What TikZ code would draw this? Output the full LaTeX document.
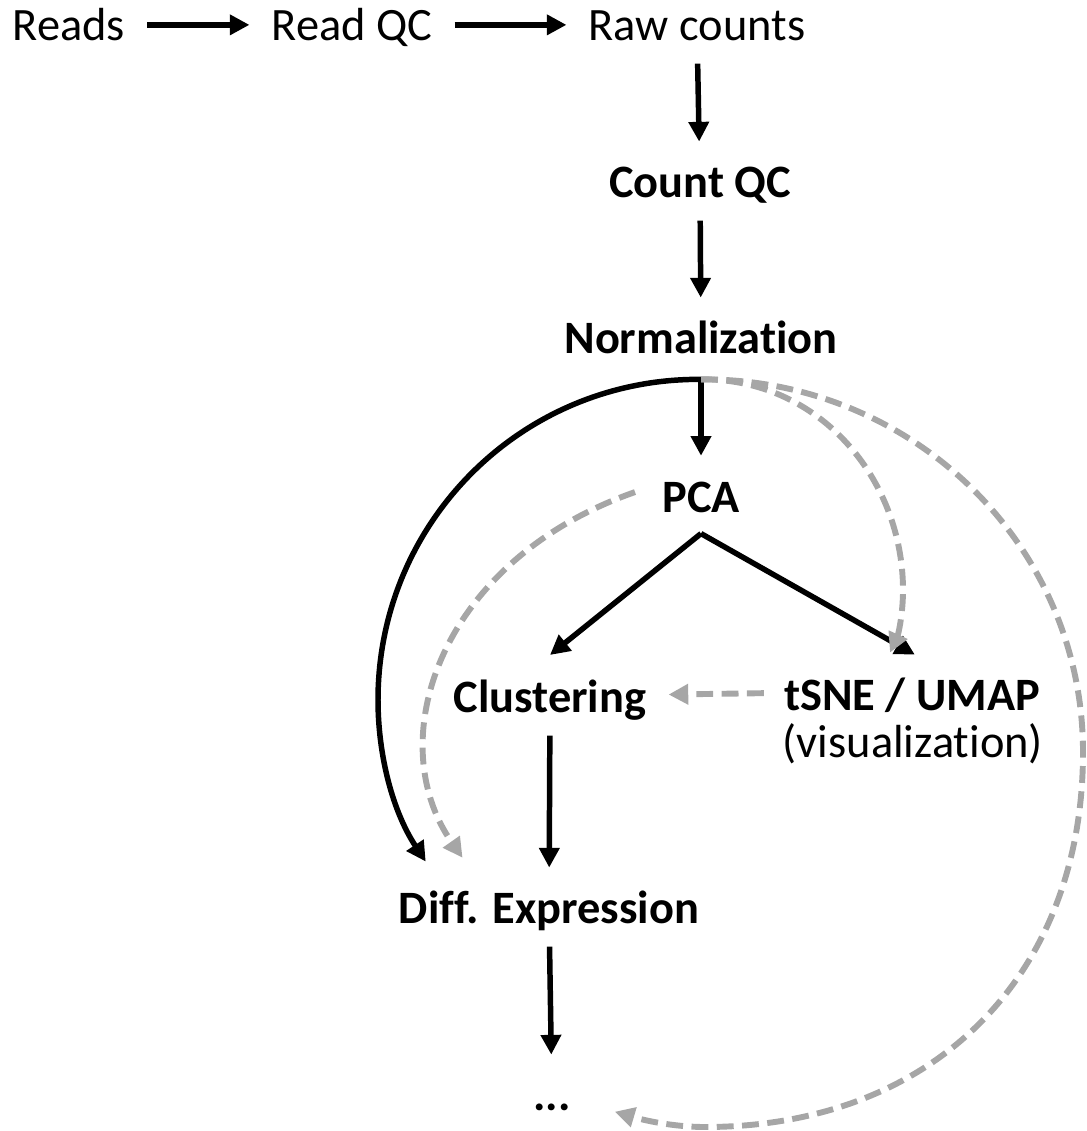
\documentclass[tikz,border=0pt]{standalone}
\usepackage{fontspec}
\setmainfont{Carlito}[Ligatures=NoCommon]
\usetikzlibrary{arrows.meta}
\tikzset{
	lbl/.style={inner sep=0pt, text height=21.3pt, text depth=6.6pt, anchor=base, font=\fontsize{33}{40}\selectfont},
	blbl/.style={lbl, font=\fontsize{33}{40}\selectfont\bfseries},
	flow/.style={line width=3.9pt, -{Triangle[length=14pt, width=14pt]}},
	gflow/.style={line width=4.2pt, color=black!35, dash pattern=on 12pt off 6pt, -{Triangle[length=14pt, width=14pt]}},
	down/.style={flow, shorten <=0.35cm, shorten >=0.63cm},
	side/.style={flow, shorten <=0.55cm, shorten >=0.55cm}
}

\begin{document}
\begin{tikzpicture}[x=0.025cm, y=-0.025cm]
			%%%%% START %%%%%
			\useasboundingbox (0,0) rectangle (1086,1131);
			
			\node[lbl] (reads) at (69,40) {Reads};
			\node[lbl] (readqc) at (352,40) {Read QC};
			\node[lbl] (rawc) at (697,40) {Raw counts};
			\node[blbl] (countqc) at (700,197) {Count QC};
			\node[blbl] (norm) at (701,353) {Normalization};
			\node[blbl] (pca) at (701,512) {PCA};
			\node[blbl] (clus) at (550,712) {Clustering};
			\node[blbl] (tsne) at (912,710) {tSNE / UMAP};
			\node[lbl] (vis) at (913,757) {(visualization)};
			\node[blbl] (diff) at (549,923) {Diff. Expression};
			\node[blbl] (dots) at (552,1110) {...};
			
			\coordinate (split) at ([yshift=-0.42cm]norm.south);
			\coordinate (fork) at ([yshift=-0.3cm]pca.south);
			
			\draw[side] ([yshift=0.12cm]reads.east) -- ([yshift=0.12cm]readqc.west);
			\draw[side] ([yshift=0.12cm]readqc.east) -- ([yshift=0.12cm]rawc.west);
			\draw[down] (rawc) -- (countqc);
			\draw[down] (countqc) -- (norm);
			\draw[flow, shorten >=0.65cm] (split) -- (pca.north);
			
			\draw[flow] (fork) -- ([yshift=0.67cm]clus.north);
			\draw[flow] (fork) -- ([xshift=0.07cm,yshift=0.63cm]tsne.north);
			\draw[down] (clus) -- (diff);
			\draw[down] (diff) -- (dots);
			
			% solid and dashed loops
			\draw[flow] (split) .. controls (522,378) and (378,522) .. (378,700) .. controls (378,756) and (393,812) .. ([xshift=0.68cm,yshift=0.78cm]diff.north west);
			\draw[gflow, shorten <=0.5cm, shorten >=0.55cm] ([yshift=0.17cm]tsne.west) -- ([yshift=0.17cm]clus.east);
			\draw[gflow] ([xshift=-0.675cm,yshift=0.24cm]pca.west) .. controls (440,560) and (380,740) .. ([xshift=1.6cm,yshift=0.875cm]diff.north west);
			\draw[gflow] (split) .. controls (820,378) and (903,480) .. (903,590) .. controls (903,615) and (898,635) .. ([xshift=-0.55cm,yshift=0.68cm]tsne.north);
			\draw[gflow] (split) .. controls (912,378) and (1083,545) .. (1083,752) .. controls (1083,977) and (932,1127) .. (705,1127) .. controls (673,1127) and (643,1120) .. ([xshift=1.1cm,yshift=-0.3cm]dots.east);
			
			%%%%% END %%%%%
\end{tikzpicture}
\end{document}
